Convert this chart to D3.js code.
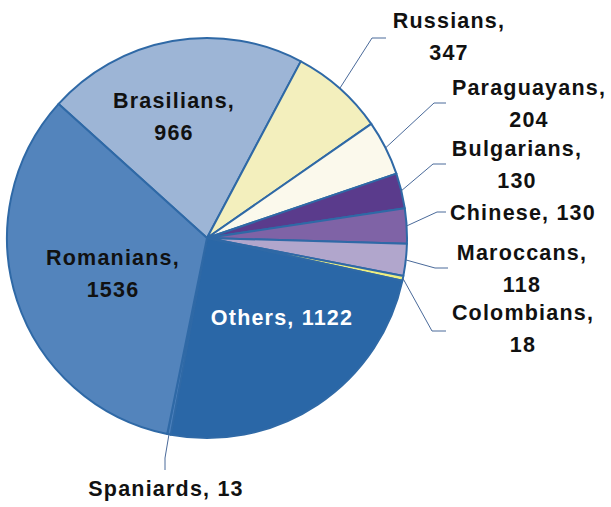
<!DOCTYPE html>
<html>
<head>
<meta charset="utf-8">
<script src="https://cdn.jsdelivr.net/npm/d3@7"></script>
<style>
  body { margin: 0; background: #fff; }
  text { font-family: "Liberation Sans", Arial, sans-serif; font-weight: bold; font-size: 21.5px; letter-spacing: 1.2px; }
</style>
</head>
<body>
<div id="chart"></div>
<script>
// values, clockwise from the Brasilians slice
const groups = ['Brasilians', 'Russians', 'Paraguayans', 'Bulgarians', 'Chinese',
  'Maroccans', 'Colombians', 'Others', 'Spaniards', 'Romanians'];
const counts = [966, 347, 204, 130, 130, 118, 18, 1122, 13, 1536];
const colors = ['#9db5d6', '#f3efbd', '#fbf9ec', '#5a3b8c', '#7f63a6',
  '#b1a6cc', '#eeee80', '#2a67a7', '#4a7fbb', '#5384bc'];

// label layout: lines of text, anchor point of first line, optional leader elbow
const labelLayout = {
  Brasilians: { lines: ['Brasilians,', '966'], x: 174, y: 100 },
  Russians: { lines: ['Russians,', '347'], x: 449, y: 20, elbow: [372, 38, 386] },
  Paraguayans: { lines: ['Paraguayans,', '204'], x: 529, y: 87, elbow: [434, 103, 446] },
  Bulgarians: { lines: ['Bulgarians,', '130'], x: 517, y: 148, elbow: [433, 164, 446] },
  Chinese: { lines: ['Chinese, 130'], x: 523, y: 212, elbow: [437, 212, 446] },
  Maroccans: { lines: ['Maroccans,', '118'], x: 522, y: 252, elbow: [435, 268, 448] },
  Colombians: { lines: ['Colombians,', '18'], x: 523, y: 312, elbow: [432, 331, 446] },
  Others: { lines: ['Others, 1122'], x: 282, y: 317, fill: '#fff' },
  Spaniards: { lines: ['Spaniards, 13'], x: 166, y: 488, elbow: [165, 458, 165, 470] },
  Romanians: { lines: ['Romanians,', '1536'], x: 113, y: 257 }
};

const width = 611, height = 507;
const cx = 207, cy = 238, radius = 200;
const lineGap = 32;

const svg = d3.select('#chart').append('svg')
  .attr('width', width)
  .attr('height', height);

const pie = d3.pie()
  .sort(null)
  .value(d => d.value)
  .startAngle(-47.9 * Math.PI / 180)
  .endAngle(-47.9 * Math.PI / 180 + 2 * Math.PI);

const data = groups.map((g, i) => ({ name: g, value: counts[i], color: colors[i] }));
const arcs = pie(data);

const arc = d3.arc().innerRadius(0).outerRadius(radius);
const edge = d3.arc().innerRadius(radius).outerRadius(radius);

const g = svg.append('g').attr('transform', 'translate(' + cx + ',' + cy + ')');

g.selectAll('path.slice')
  .data(arcs)
  .enter()
  .append('path')
  .attr('class', 'slice')
  .attr('d', arc)
  .attr('fill', d => d.data.color)
  .attr('stroke', '#2f69a6')
  .attr('stroke-width', 2)
  .attr('stroke-linejoin', 'round');

// leader lines
arcs.forEach(d => {
  const lay = labelLayout[d.data.name];
  if (!lay.elbow) return;
  const p = edge.centroid(d);
  const pts = [[p[0] + cx, p[1] + cy]];
  const e = lay.elbow;
  if (e.length === 3) {
    pts.push([e[0], e[1]], [e[2], e[1]]);
  } else {
    pts.push([e[0], e[1]], [e[2], e[3]]);
  }
  svg.append('path')
    .attr('d', d3.line()(pts))
    .attr('fill', 'none')
    .attr('stroke', '#4a6a9a')
    .attr('stroke-width', 1);
});

// labels
const labels = svg.append('g');
arcs.forEach(d => {
  const lay = labelLayout[d.data.name];
  lay.lines.forEach((t, i) => {
    labels.append('text')
      .attr('x', lay.x)
      .attr('y', lay.y + i * lineGap)
      .attr('dy', '0.36em')
      .attr('text-anchor', 'middle')
      .attr('fill', lay.fill || '#111')
      .text(t);
  });
});
</script>
</body>
</html>
